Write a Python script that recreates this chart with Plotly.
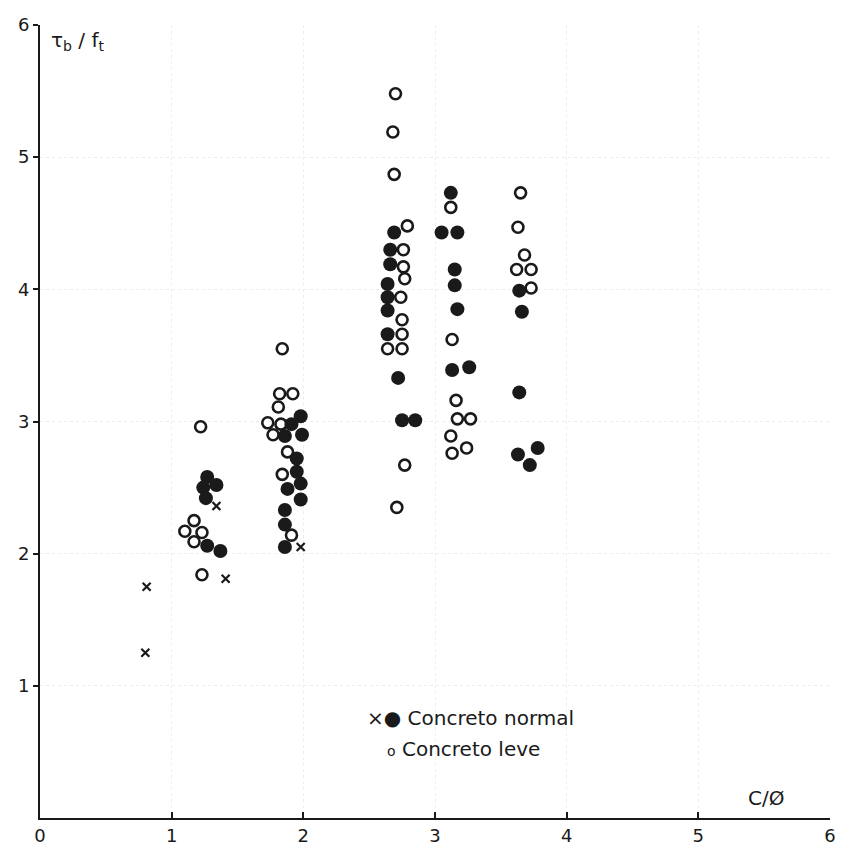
import plotly.graph_objects as go

# Concreto normal - filled circles
normal_x = [1.27, 1.34, 1.24, 1.26, 1.27, 1.37,
            1.98, 1.91, 1.86, 1.99, 1.95, 1.95, 1.98, 1.88, 1.98, 1.86, 1.86, 1.86,
            2.69, 2.66, 2.66, 2.64, 2.64, 2.64, 2.64, 2.72, 2.75, 2.85,
            3.05, 3.17, 3.12, 3.15, 3.15, 3.17, 3.13, 3.26,
            3.64, 3.66, 3.64, 3.78, 3.63, 3.72]
normal_y = [2.58, 2.52, 2.50, 2.42, 2.06, 2.02,
            3.04, 2.98, 2.89, 2.90, 2.72, 2.62, 2.53, 2.49, 2.41, 2.33, 2.22, 2.05,
            4.43, 4.30, 4.19, 4.04, 3.94, 3.84, 3.66, 3.33, 3.01, 3.01,
            4.43, 4.43, 4.73, 4.15, 4.03, 3.85, 3.39, 3.41,
            3.99, 3.83, 3.22, 2.80, 2.75, 2.67]

# Concreto normal - crosses
cross_x = [0.81, 0.80, 1.34, 1.41, 1.98]
cross_y = [1.75, 1.25, 2.36, 1.81, 2.05]

# Concreto leve - open circles
leve_x = [1.22, 1.17, 1.10, 1.23, 1.17, 1.23,
          1.84, 1.82, 1.92, 1.81, 1.73, 1.83, 1.77, 1.88, 1.84, 1.91,
          2.70, 2.68, 2.69, 2.79, 2.76, 2.76, 2.77, 2.74, 2.75, 2.75, 2.64, 2.75, 2.77, 2.71,
          3.12, 3.13, 3.16, 3.17, 3.27, 3.12, 3.13, 3.24,
          3.65, 3.63, 3.68, 3.62, 3.73, 3.73]
leve_y = [2.96, 2.25, 2.17, 2.16, 2.09, 1.84,
          3.55, 3.21, 3.21, 3.11, 2.99, 2.98, 2.90, 2.77, 2.60, 2.14,
          5.48, 5.19, 4.87, 4.48, 4.30, 4.17, 4.08, 3.94, 3.77, 3.66, 3.55, 3.55, 2.67, 2.35,
          4.62, 3.62, 3.16, 3.02, 3.02, 2.89, 2.76, 2.80,
          4.73, 4.47, 4.26, 4.15, 4.15, 4.01]

tick_vals = [0, 1, 2, 3, 4, 5, 6]
tick_text = ["0", "1", "2", "3", "4", "5", "6"]
ytick_vals = [1, 2, 3, 4, 5, 6]
ytick_text = ["1", "2", "3", "4", "5", "6"]

ink = "#1a1a1a"
font = "DejaVu Sans"

fig = go.Figure()
fig.add_trace(go.Scatter(x=leve_x, y=leve_y, mode="markers",
                         marker=dict(symbol="circle-open", size=11, color=ink,
                                     line=dict(width=2.6, color=ink)),
                         showlegend=False))
fig.add_trace(go.Scatter(x=normal_x, y=normal_y, mode="markers",
                         marker=dict(symbol="circle", size=14, color=ink,
                                     line=dict(width=0)),
                         showlegend=False))
fig.add_trace(go.Scatter(x=cross_x, y=cross_y, mode="markers",
                         marker=dict(symbol="x-thin-open", size=8, color=ink,
                                     line=dict(width=2.2, color=ink)),
                         showlegend=False))

axis_common = dict(range=[0, 6], showline=True, linecolor=ink, linewidth=2,
                   tickwidth=2, tickcolor=ink,
                   showgrid=True, gridcolor="rgba(0,0,0,0.07)", griddash="dot", gridwidth=1,
                   zeroline=False, fixedrange=True, automargin=False,
                   tickfont=dict(family=font, size=18, color=ink))

fig.update_layout(
    width=845, height=850,
    margin=dict(l=40, r=15, t=25, b=32),
    paper_bgcolor="white", plot_bgcolor="white",
    font=dict(family=font, size=20, color=ink),
    showlegend=False,
    xaxis=dict(tickvals=tick_vals, ticktext=tick_text, ticks="inside", ticklen=6, **axis_common),
    yaxis=dict(tickvals=ytick_vals, ticktext=ytick_text, ticks="outside", ticklen=5, **axis_common),
)

fig.add_annotation(x=0.07, y=5.88, xref="x", yref="y", xanchor="left", yanchor="middle",
                   text="τ<sub>b</sub> / f<sub>t</sub>", showarrow=False,
                   font=dict(family=font, size=20, color=ink))
fig.add_annotation(x=5.36, y=0.15, xref="x", yref="y", xanchor="left", yanchor="middle",
                   text="C/Ø", showarrow=False, font=dict(family=font, size=20, color=ink))
fig.add_annotation(x=2.47, y=0.76, xref="x", yref="y", xanchor="left", yanchor="middle",
                   text="×● Concreto normal", showarrow=False,
                   font=dict(family=font, size=20, color=ink))
fig.add_annotation(x=2.62, y=0.52, xref="x", yref="y", xanchor="left", yanchor="middle",
                   text="<span style='font-size:14px'>o</span> Concreto leve", showarrow=False,
                   font=dict(family=font, size=20, color=ink))

fig.write_html("out.html")
